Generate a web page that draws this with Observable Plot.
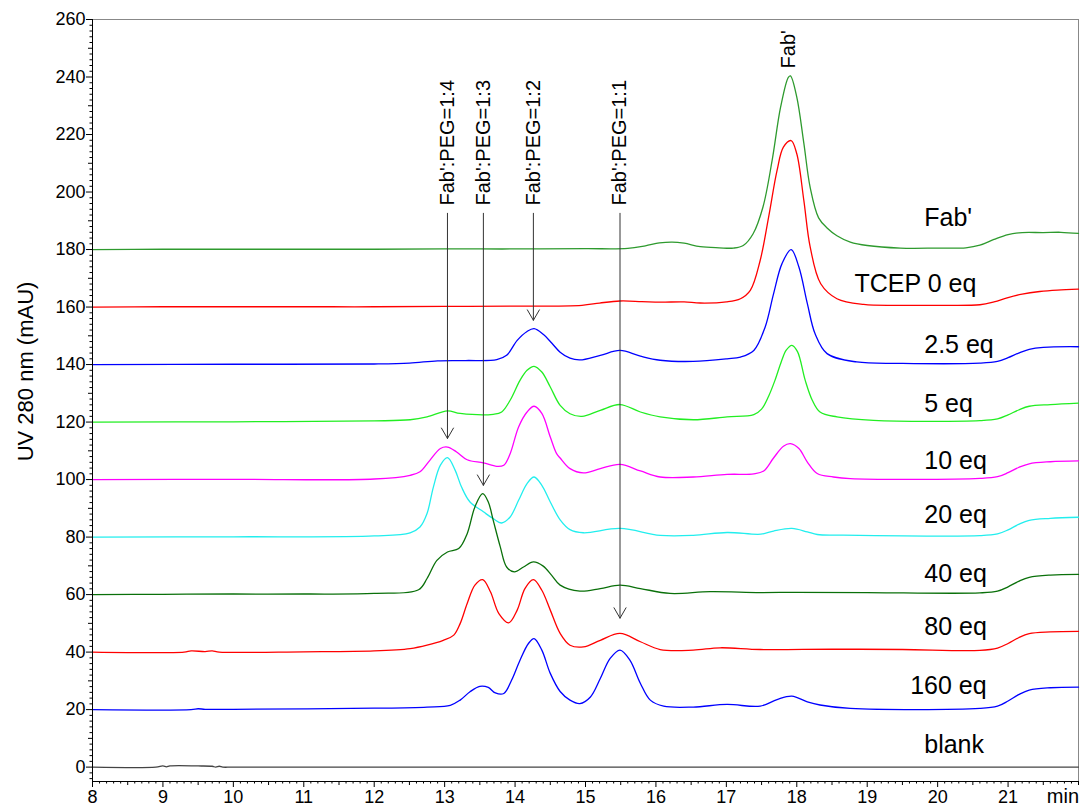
<!DOCTYPE html>
<html><head><meta charset="utf-8">
<script src="https://cdn.jsdelivr.net/npm/d3@7"></script>
<script src="https://cdn.jsdelivr.net/npm/@observablehq/plot@0.6"></script>
<style>html,body{margin:0;padding:0;background:#fff;} svg{display:block;}</style>
</head><body><div id="chart"></div>
<script>
// ---- Data: [time (min), UV 280 nm (mAU)] ----
const trFab = [[8,180],[9,180.1],[10,180.1],[11,180.1],[12,180.1],[13,180.2],[14,180.2],[15,180.3],[15.6,180.4],[15.85,181.3],[16.05,182.3],[16.23,182.6],[16.4,182.2],[16.63,181.0],[16.9,180.6],[17.1,180.5],[17.24,181.4],[17.38,185.5],[17.52,194.8],[17.65,211],[17.77,229.5],[17.88,239.9],[17.91,240.4],[18.0,233],[18.1,217],[18.19,201.6],[18.31,191],[18.43,187.5],[18.57,184.8],[18.76,182.6],[19.0,181.4],[19.47,180.5],[20.0,180.5],[20.4,180.6],[20.6,181.5],[20.8,183.5],[21.0,185.2],[21.2,185.9],[21.5,185.9],[21.75,186.0],[22,185.6]];
const trTcep0 = [[8,160],[9,160.1],[10,160.1],[11,160.1],[12,160.1],[13,160.2],[14,160.3],[14.95,160.6],[15.2,161.4],[15.49,162.1],[15.8,161.9],[16.06,161.7],[16.4,161.8],[16.63,161.4],[17.0,161.8],[17.2,162.9],[17.34,165.8],[17.48,176.2],[17.6,191.3],[17.72,207.5],[17.81,215.6],[17.92,217.9],[18.0,213.3],[18.1,197.1],[18.19,180.9],[18.34,168.1],[18.57,162.9],[18.95,160.9],[19.5,160.6],[20.0,160.6],[20.6,160.8],[20.8,161.8],[21.0,163.3],[21.2,164.5],[21.45,165.4],[21.7,165.9],[22,166.2]];
const tr2p5 = [[8,140],[10,140.1],[12,140.2],[12.5,140.5],[12.9,141.3],[13.3,141.4],[13.74,141.7],[13.88,143.2],[14.03,148.4],[14.17,151.5],[14.27,152.5],[14.40,150.5],[14.52,147.5],[14.64,144.3],[14.78,142.2],[14.92,141.6],[15.21,143.2],[15.49,144.9],[15.78,142.9],[16.06,141.5],[16.53,141.1],[17.01,142.0],[17.2,142.6],[17.39,144.9],[17.55,153],[17.67,164.6],[17.79,175.1],[17.92,180],[18.03,173.9],[18.15,161.2],[18.26,150.7],[18.43,143.8],[18.85,140.9],[19.5,140.4],[20.6,140.5],[20.85,141.1],[21.0,142.4],[21.15,144.0],[21.3,145.3],[21.5,146.0],[22,146.2]];
const tr5 = [[8,120],[10,120.1],[12,120.4],[12.51,120.8],[12.75,121.8],[13.04,123.9],[13.22,123],[13.69,122.7],[13.81,123.5],[13.93,127.6],[14.07,134.5],[14.17,138],[14.27,139.4],[14.38,137.4],[14.50,132.2],[14.64,125.8],[14.78,122.9],[14.95,122],[15.21,124.1],[15.49,126.1],[15.78,123.5],[16.06,121.8],[16.53,120.8],[17.01,121.8],[17.39,122.6],[17.5,124.5],[17.6,129],[17.69,134.5],[17.78,141],[17.85,145],[17.93,146.7],[18.01,144.5],[18.12,134.5],[18.22,127.6],[18.33,123.5],[18.57,121.8],[19.09,120.6],[20.6,120.5],[20.85,121.1],[21.0,122.5],[21.15,124.2],[21.3,125.5],[21.6,126.1],[22,126.6]];
const tr10 = [[8,100],[10,100.1],[12,100.2],[12.51,101.5],[12.65,102.7],[12.79,106.7],[12.94,110.8],[13.04,111.3],[13.17,109.6],[13.32,106.9],[13.55,105.8],[13.74,104.6],[13.84,105],[13.93,109],[14.05,118.3],[14.17,123.5],[14.27,125.5],[14.38,123],[14.50,114.8],[14.59,109],[14.64,107.5],[14.78,103.8],[14.97,102.3],[15.21,103.8],[15.49,105.3],[15.78,103],[16.06,100.9],[16.53,100.9],[17.01,101.8],[17.39,102],[17.53,103],[17.67,107.5],[17.81,111.6],[17.91,112.5],[18.03,110.8],[18.15,106.1],[18.29,102.1],[18.52,100.9],[18.76,100.3],[20.6,100.4],[20.85,101],[21.0,102.4],[21.15,104.2],[21.3,105.5],[21.6,106.2],[22,106.5]];
const tr20 = [[8,80],[10,80.1],[12,80.4],[12.51,81.5],[12.65,83.5],[12.75,88.2],[12.84,97.4],[12.94,105],[13.04,107.6],[13.15,103.2],[13.24,97.4],[13.36,92.2],[13.55,88.8],[13.69,86.4],[13.81,84.9],[13.93,87],[14.05,92.8],[14.17,98.6],[14.27,100.9],[14.38,98],[14.50,92.2],[14.64,86],[14.78,82.6],[14.97,81.5],[15.49,83],[16.06,80.6],[16.53,80.6],[17.01,81.6],[17.49,81],[17.67,82.1],[17.93,83],[18.15,81.8],[18.29,80.9],[18.62,80.7],[20.6,80.5],[20.85,81.1],[21.0,82.5],[21.15,84.4],[21.3,85.8],[21.6,86.5],[22,86.9]];
const tr40 = [[8,60],[9,60.1],[10,60.2],[11,60.2],[12,60.4],[12.63,61.7],[12.75,65.6],[12.89,71.9],[13.04,74.8],[13.20,76],[13.32,81.2],[13.43,90.5],[13.54,95.1],[13.62,92.2],[13.69,85.8],[13.79,76.6],[13.88,69.6],[13.99,67.9],[14.12,69.6],[14.26,71.4],[14.40,69.9],[14.52,66.7],[14.64,63.3],[14.92,61.2],[15.21,62.1],[15.49,63.3],[15.78,62.1],[16.20,60.4],[16.77,61],[17.48,60.7],[18.0,60.8],[19,60.7],[20.6,60.6],[20.85,61.2],[21.0,62.7],[21.15,64.6],[21.3,66],[21.6,66.8],[22,67]];
const tr80 = [[8,40],[9.3,40],[9.4,40.4],[9.6,40.2],[9.7,40.4],[9.8,40],[11,40.1],[12,40.4],[12.51,41.2],[12.75,42.4],[12.98,44.1],[13.13,45.9],[13.22,49.9],[13.32,56.9],[13.43,63.3],[13.54,65.2],[13.65,61],[13.77,53.4],[13.91,50.2],[14.03,54.6],[14.14,62.1],[14.26,65.2],[14.38,61.5],[14.50,54.6],[14.64,46.5],[14.78,42.4],[14.97,41.8],[15.21,44.1],[15.49,46.5],[15.78,43.6],[16.06,40.9],[16.53,40.7],[16.91,41.5],[17.48,40.9],[18.5,41],[19.5,40.9],[20.6,40.6],[20.85,41.4],[21.0,43.0],[21.15,45.0],[21.3,46.4],[21.6,47],[22,47.2]];
const tr160 = [[8,20],[9.4,20],[9.5,20.3],[9.6,20.1],[10,20.1],[12,20.5],[12.75,20.9],[13.08,21.5],[13.22,23.3],[13.36,26.2],[13.50,28.1],[13.62,27.7],[13.72,25.8],[13.84,25.6],[13.95,30.2],[14.07,37.2],[14.19,43],[14.27,44.7],[14.38,40.7],[14.50,32.6],[14.64,26.3],[14.78,23.3],[14.92,22.1],[15.07,24.4],[15.21,30.8],[15.35,37.8],[15.49,40.7],[15.63,37.2],[15.78,29.1],[15.92,23.3],[16.11,21.2],[16.53,20.9],[17.01,21.8],[17.48,21.2],[17.72,23.5],[17.93,24.7],[18.15,22.7],[18.33,21.6],[18.76,20.4],[20.6,20.4],[20.85,21.2],[21.0,23.0],[21.15,25.2],[21.3,26.8],[21.6,27.6],[22,27.8]];
const trBlank = [[8,0],[8.9,0],[9.0,0.4],[9.05,0.1],[9.1,0.4],[9.5,0.4],[9.7,0.3],[9.75,0],[9.8,0.3],[9.85,0],[10,0],[22,0]];

const traceNames  = ["Fab'", "TCEP 0 eq", "2.5 eq", "5 eq", "10 eq", "20 eq", "40 eq", "80 eq", "160 eq", "blank"];
const traceData   = [trFab, trTcep0, tr2p5, tr5, tr10, tr20, tr40, tr80, tr160, trBlank];
const traceColors = ["#2e9a2e", "#ff0000", "#0000ff", "#22ee22", "#ff00ff", "#22eeee", "#0a700a", "#ff0000", "#0000ff", "#444444"];

// trace labels at right (annotation anchor in data coords)
const labelT = [19.81, 18.82, 19.81, 19.81, 19.81, 19.81, 19.81, 19.81, 19.61, 19.81];
const labelY = [191.1, 167.9, 146.7, 126.3, 106.5, 87.6, 67.1, 48.8, 28.2, 7.7];

// peak annotations
const peakLabels = ["Fab':PEG=1:4", "Fab':PEG=1:3", "Fab':PEG=1:2", "Fab':PEG=1:1"];
const peakT      = [13.04, 13.55, 14.26, 15.49];
const peakTipY   = [114.3, 98, 155.4, 51.8];
const arrowTopY  = 192.6;
const labelBaseY = 195.3;
const fabPeakT = 17.88, fabPeakLabelY = 243;

const xMajor = d3.range(8, 22, 1);
const yMajor = d3.range(0, 261, 20);

// ---- build ----
const font = "Liberation Sans, Arial, Helvetica, sans-serif";
const marks = [];

// frame
marks.push(Plot.ruleY([260], {stroke: "#888", strokeWidth: 1}));
marks.push(Plot.ruleX([22], {stroke: "#888", strokeWidth: 1}));

// traces
traceData.forEach((pts, i) => {
  marks.push(Plot.line(pts, {x: d => d[0], y: d => d[1], stroke: traceColors[i], strokeWidth: 1.3, curve: "catmull-rom"}));
});

// trace labels
marks.push(Plot.text(traceNames.map((n, i) => ({n, t: labelT[i], y: labelY[i]})),
  {x: "t", y: "y", text: "n", textAnchor: "start", lineAnchor: "middle", fontSize: 25, fill: "#000"}));

// arrows
const arrows = peakLabels.map((l, i) => ({l, t: peakT[i], tip: peakTipY[i]}));
marks.push(Plot.arrow(arrows, {x1: "t", x2: "t", y1: () => arrowTopY, y2: "tip", stroke: "#333", strokeWidth: 1, headLength: 18, headAngle: 60}));
marks.push(Plot.text(arrows, {x: "t", y: () => labelBaseY, text: "l", rotate: -90, textAnchor: "start", lineAnchor: "middle", fontSize: 20, fill: "#000"}));
marks.push(Plot.text([{l: "Fab'"}], {x: () => fabPeakT, y: () => fabPeakLabelY, text: "l", rotate: -90, textAnchor: "start", lineAnchor: "middle", fontSize: 20, fill: "#000"}));

// axes
marks.push(Plot.axisY(yMajor, {tickSize: 6, tickPadding: 1, fontSize: 18, label: null}));
marks.push(Plot.axisY(d3.range(-4, 261, 2).filter(v => v % 10 !== 0), {tickSize: 2.5, tickFormat: () => "", label: null}));
marks.push(Plot.axisY(d3.range(10, 261, 20), {tickSize: 4, tickFormat: () => "", label: null}));
marks.push(Plot.axisX(xMajor, {tickSize: 6, tickPadding: 3, fontSize: 18, label: null}));
marks.push(Plot.axisX(d3.range(80, 221, 1).map(v => v / 10).filter(v => Math.round(v * 10) % 5 !== 0), {tickSize: 2.5, tickFormat: () => "", label: null}));
marks.push(Plot.axisX(d3.range(8.5, 22, 1).concat([22]), {tickSize: 4, tickFormat: () => "", label: null}));
marks.push(Plot.ruleX([8], {stroke: "#000", strokeWidth: 1}));
marks.push(Plot.ruleY([-5], {stroke: "#000", strokeWidth: 1}));

// axis titles
marks.push(Plot.text([{l: "UV 280 nm (mAU)"}], {frameAnchor: "left", y: () => 137.6, text: "l", rotate: -90, dx: -67, textAnchor: "middle", lineAnchor: "middle", fontSize: 22, fill: "#000"}));
marks.push(Plot.text([{l: "min"}], {x: () => 21.55, frameAnchor: "bottom", dy: 15, text: "l", textAnchor: "start", lineAnchor: "middle", fontSize: 20, fill: "#000"}));

const plot = Plot.plot({
  width: 1086,
  height: 809,
  marginLeft: 92,
  marginRight: 8,
  marginTop: 19,
  marginBottom: 28,
  x: {domain: [8, 22]},
  y: {domain: [-5, 260]},
  style: {fontFamily: font, background: "#fff", color: "#000", overflow: "visible"},
  marks
});
document.getElementById("chart").append(plot);
</script>
</body></html>
